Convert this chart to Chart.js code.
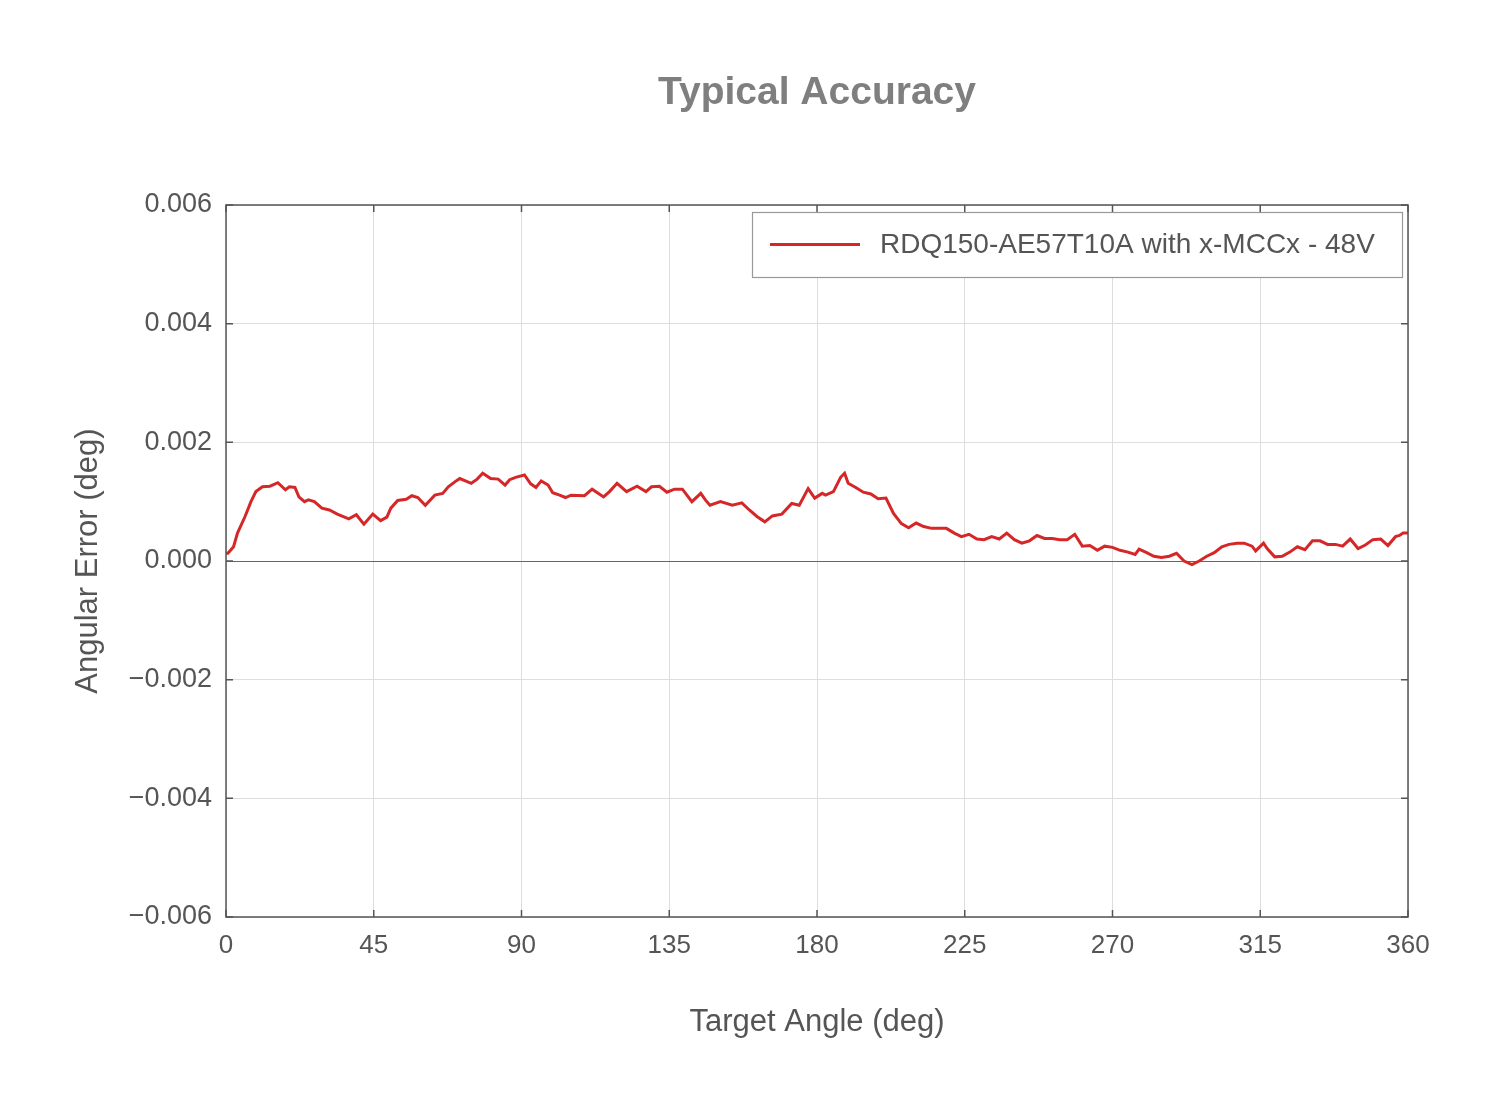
<!DOCTYPE html>
<html><head><meta charset="utf-8">
<script src="https://cdn.jsdelivr.net/npm/chart.js@4"></script>
<style>html,body{margin:0;padding:0;background:#fff}#w{width:1508px;height:1116px}</style>
</head><body><div id="w"><canvas id="c"></canvas></div>
<script>
const chartTitle = "Typical Accuracy";
const seriesLabel = "RDQ150-AE57T10A with x-MCCx - 48V";
const xTitle = "Target Angle (deg)";
const yTitle = "Angular Error (deg)";
const xTicks = [0,45,90,135,180,225,270,315,360];
const yTicks = [-0.006,-0.004,-0.002,0,0.002,0.004,0.006];
const angles = [0,0.6,2.3,3.5,5.8,7.6,9.1,11.1,13.4,15.8,18.1,19.3,21.0,22.2,23.9,25.1,26.9,29.2,31.5,33.9,37.4,39.7,42.0,44.7,47.1,49.0,50.2,52.3,54.9,56.6,58.4,60.7,63.6,66.0,67.7,70.1,71.2,74.7,76.5,78.2,80.6,82.9,85.0,86.4,88.2,90.9,92.8,94.4,96.0,98.1,99.5,101.6,103.4,105.1,109.2,111.5,115.0,116.8,119.1,122.0,125.2,127.9,129.6,132.0,134.3,136.6,139.0,141.9,144.6,146.0,147.4,150.6,154.2,157.1,159.4,161.7,164.1,166.4,169.3,172.3,174.6,177.3,179.3,181.6,182.6,185.0,187.2,188.4,189.5,191.8,194.1,196.4,198.6,201.0,203.3,205.7,207.9,210.2,212.5,214.9,217.1,219.4,221.8,224.0,226.3,228.7,230.9,233.2,235.5,237.8,240.1,242.4,244.7,247.0,249.3,251.7,253.9,256.2,258.5,260.8,263.1,265.4,267.6,270.0,272.3,274.7,276.9,278.1,280.4,282.6,284.9,287.3,289.5,291.8,294.2,296.4,298.7,301.0,303.3,305.5,307.9,310.1,312.5,313.6,316.0,317.1,319.4,321.7,324.0,326.3,328.6,330.9,333.2,335.5,337.9,340.1,342.4,344.8,347.0,349.3,351.7,353.9,356.2,357.4,358.5,360];
const errors = [0.00013,0.00013,0.00024,0.00047,0.00075,0.00100,0.00117,0.00125,0.00126,0.00132,0.00120,0.00125,0.00124,0.00108,0.00100,0.00103,0.00100,0.00089,0.00086,0.00079,0.00071,0.00078,0.00062,0.00079,0.00068,0.00074,0.00089,0.00102,0.00104,0.00110,0.00107,0.00094,0.00111,0.00114,0.00125,0.00135,0.00139,0.00131,0.00138,0.00148,0.00139,0.00138,0.00128,0.00137,0.00141,0.00145,0.00130,0.00124,0.00135,0.00128,0.00115,0.00111,0.00107,0.00111,0.00110,0.00121,0.00108,0.00117,0.00131,0.00117,0.00126,0.00117,0.00125,0.00126,0.00116,0.00121,0.00121,0.00100,0.00114,0.00103,0.00094,0.00100,0.00094,0.00098,0.00086,0.00075,0.00066,0.00076,0.00079,0.00097,0.00094,0.00122,0.00106,0.00114,0.00111,0.00117,0.00141,0.00148,0.00131,0.00124,0.00116,0.00113,0.00105,0.00106,0.00080,0.00063,0.00056,0.00064,0.00058,0.00055,0.00055,0.00055,0.00047,0.00041,0.00045,0.00037,0.00036,0.00041,0.00037,0.00047,0.00036,0.00030,0.00034,0.00043,0.00038,0.00038,0.00036,0.00036,0.00045,0.00025,0.00026,0.00018,0.00025,0.00023,0.00018,0.00015,0.00011,0.00020,0.00014,0.00008,0.00006,0.00008,0.00013,0.00000,-0.00006,0.00000,0.00008,0.00014,0.00024,0.00028,0.00030,0.00030,0.00025,0.00017,0.00030,0.00021,0.00007,0.00008,0.00015,0.00024,0.00019,0.00034,0.00034,0.00028,0.00028,0.00025,0.00037,0.00021,0.00027,0.00036,0.00037,0.00026,0.00041,0.00043,0.00047,0.00047];

const FONT = "'Liberation Sans', Arial, sans-serif";
const TXT = "#555555";
const fmtY = v => { const s = Math.abs(v).toFixed(3); return v < 0 ? "\u2212" + s : s; };

const deco = {
  id: 'deco',
  beforeDatasetsDraw(chart) {
    const {ctx, chartArea: a, scales: {x, y}} = chart;
    ctx.save();
    ctx.strokeStyle = '#666'; ctx.lineWidth = 1.2;
    const z = Math.round(y.getPixelForValue(0)) + 0.5;
    ctx.beginPath(); ctx.moveTo(a.left, z); ctx.lineTo(a.right, z); ctx.stroke();
    ctx.restore();
  },
  afterDraw(chart) {
    const {ctx, chartArea: a, scales: {x, y}} = chart;
    ctx.save();
    ctx.strokeStyle = '#555'; ctx.lineWidth = 1.5;
    ctx.strokeRect(a.left, a.top, a.right - a.left, a.bottom - a.top);
    ctx.beginPath();
    const T = 7;
    xTicks.forEach(v => { const p = x.getPixelForValue(v);
      ctx.moveTo(p, a.bottom); ctx.lineTo(p, a.bottom - T);
      ctx.moveTo(p, a.top); ctx.lineTo(p, a.top + T); });
    yTicks.forEach(v => { const p = y.getPixelForValue(v);
      ctx.moveTo(a.left, p); ctx.lineTo(a.left + T, p);
      ctx.moveTo(a.right, p); ctx.lineTo(a.right - T, p); });
    ctx.stroke();
    ctx.fillStyle = '#7f7f7f'; ctx.font = "bold 39px " + FONT;
    ctx.textAlign = 'center'; ctx.textBaseline = 'middle';
    ctx.fillText(chartTitle, (a.left + a.right) / 2, 93);
    ctx.fillStyle = TXT; ctx.font = "31px " + FONT;
    ctx.fillText(xTitle, (a.left + a.right) / 2, 1022);
    ctx.save(); ctx.translate(88, (a.top + a.bottom) / 2); ctx.rotate(-Math.PI / 2);
    ctx.fillText(yTitle, 0, 0); ctx.restore();
    const lx = 752, ly = 212, lw = 650, lh = 65;
    ctx.fillStyle = '#fff'; ctx.fillRect(lx, ly, lw, lh);
    ctx.strokeStyle = '#999'; ctx.lineWidth = 1.2; ctx.strokeRect(lx + 0.5, ly + 0.5, lw, lh);
    ctx.strokeStyle = '#d62728'; ctx.lineWidth = 3;
    ctx.beginPath(); ctx.moveTo(770, ly + lh / 2); ctx.lineTo(860, ly + lh / 2); ctx.stroke();
    ctx.fillStyle = TXT; ctx.font = "28px " + FONT; ctx.textAlign = 'left';
    ctx.fillText(seriesLabel, 880, ly + lh / 2 + 1);
    ctx.restore();
  }
};

new Chart(document.getElementById('c'), {
  type: 'scatter',
  data: { datasets: [{
    label: seriesLabel,
    data: angles.map((a, i) => ({x: a, y: errors[i]})),
    showLine: true, borderColor: '#d62728', borderWidth: 3, pointRadius: 0, tension: 0
  }]},
  options: {
    responsive: true, maintainAspectRatio: false, animation: false,
    layout: { padding: { top: 205, right: 100, left: 0, bottom: 0 } },
    plugins: { legend: { display: false }, title: { display: false }, tooltip: { enabled: false } },
    scales: {
      x: { type: 'linear', min: 0, max: 360,
        afterBuildTicks: s => { s.ticks = xTicks.map(v => ({value: v})); },
        afterFit: s => { s.height = 199; },
        grid: { color: '#dddddd', drawTicks: false }, border: { display: false },
        ticks: { padding: 13, color: TXT, font: { family: FONT, size: 26 } } },
      y: { min: -0.006, max: 0.006,
        afterBuildTicks: s => { s.ticks = yTicks.map(v => ({value: v})); },
        afterFit: s => { s.width = 226; },
        grid: { color: '#dddddd', drawTicks: false }, border: { display: false },
        ticks: { padding: 14, color: TXT, font: { family: FONT, size: 27 }, callback: v => fmtY(v) } }
    }
  },
  plugins: [deco]
});
</script></body></html>
